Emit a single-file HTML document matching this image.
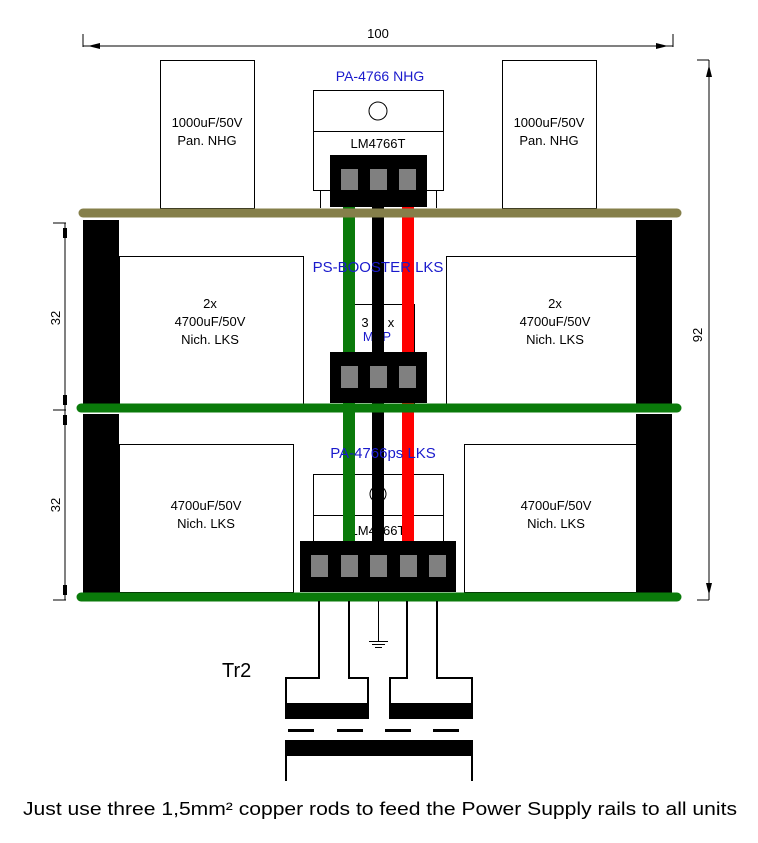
<!DOCTYPE html>
<html><head><meta charset="utf-8"><style>
html,body{margin:0;padding:0;background:#fff;}
svg{display:block;}
text{font-family:"Liberation Sans",sans-serif;}
</style></head><body>
<svg width="758" height="843" viewBox="0 0 758 843" xmlns="http://www.w3.org/2000/svg">
<g stroke="#000" stroke-width="1" fill="none">
<line x1="83" y1="34" x2="83" y2="47"/><line x1="673" y1="34" x2="673" y2="47"/>
<line x1="83" y1="46" x2="673" y2="46"/>
<line x1="697" y1="60" x2="709" y2="60"/><line x1="697" y1="600" x2="709" y2="600"/>
<line x1="709" y1="60" x2="709" y2="600"/>
<line x1="53" y1="223" x2="66" y2="223"/><line x1="53" y1="410" x2="66" y2="410"/><line x1="53" y1="600" x2="66" y2="600"/>
<line x1="65" y1="223" x2="65" y2="600"/>
</g>
<g fill="#000">
<polygon points="88,46 100,43 100,49"/><polygon points="668,46 656,43 656,49"/>
<polygon points="709,65 706,77 712,77"/><polygon points="709,595 706,583 712,583"/>
<rect x="63" y="228" width="4" height="10"/><rect x="63" y="395" width="4" height="10"/>
<rect x="63" y="415" width="4" height="10"/><rect x="63" y="585" width="4" height="10"/>
</g>
<text x="378" y="38" font-size="13" text-anchor="middle">100</text>
<text transform="translate(702,335) rotate(-90)" font-size="13" text-anchor="middle">92</text>
<text transform="translate(60,318) rotate(-90)" font-size="13" text-anchor="middle">32</text>
<text transform="translate(60,505) rotate(-90)" font-size="13" text-anchor="middle">32</text>

<g stroke="#000" fill="#fff">
<rect x="160.5" y="60.5" width="94" height="148"/>
<rect x="502.5" y="60.5" width="94" height="148"/>
<rect x="313.5" y="90.5" width="130" height="100"/>
</g>
<g font-size="13" text-anchor="middle">
<text x="207" y="127">1000uF/50V</text><text x="207" y="145">Pan. NHG</text>
<text x="549" y="127">1000uF/50V</text><text x="549" y="145">Pan. NHG</text>
</g>
<line x1="313" y1="131.5" x2="443" y2="131.5" stroke="#000"/>
<circle cx="378" cy="111" r="9" fill="none" stroke="#000"/>
<g stroke="#000"><line x1="320.5" y1="190" x2="320.5" y2="208"/><line x1="436.5" y1="190" x2="436.5" y2="208"/></g>
<text x="378" y="148" font-size="13" text-anchor="middle">LM4766T</text>
<text x="380" y="81" font-size="14" fill="#1a1acc" text-anchor="middle">PA-4766 NHG</text>
<rect x="330" y="155" width="97" height="52" fill="#000"/>
<g fill="#808080"><rect x="341" y="169" width="17" height="21"/><rect x="370" y="169" width="17" height="21"/><rect x="399" y="169" width="17" height="21"/></g>

<g fill="#000">
<rect x="83" y="220" width="36" height="186"/><rect x="636" y="220" width="36" height="186"/>
<rect x="83" y="414" width="36" height="181"/><rect x="636" y="414" width="36" height="181"/>
</g>
<g stroke="#000" fill="#fff">
<rect x="119.5" y="256.5" width="184" height="149"/>
<rect x="446.5" y="256.5" width="190" height="149"/>
<rect x="119.5" y="444.5" width="174" height="148"/>
<rect x="464.5" y="444.5" width="172" height="148"/>
<rect x="343.5" y="304.5" width="71" height="105"/>
<rect x="313.5" y="474.5" width="130" height="67"/>
</g>
<line x1="313" y1="515.5" x2="443" y2="515.5" stroke="#000"/>
<g font-size="13" text-anchor="middle">
<text x="210" y="308">2x</text><text x="210" y="326">4700uF/50V</text><text x="210" y="344">Nich. LKS</text>
<text x="555" y="308">2x</text><text x="555" y="326">4700uF/50V</text><text x="555" y="344">Nich. LKS</text>
<text x="206" y="510">4700uF/50V</text><text x="206" y="528">Nich. LKS</text>
<text x="556" y="510">4700uF/50V</text><text x="556" y="528">Nich. LKS</text>
<text x="365" y="327">3</text><text x="391" y="327">x</text>
<text x="378" y="535">LM4766T</text>
</g>
<text x="377" y="341" font-size="13" fill="#1a1acc" text-anchor="middle">MKP</text>

<rect x="343" y="207" width="12" height="338" fill="#0a7a0a"/>
<rect x="372" y="207" width="12" height="338" fill="#000"/>
<rect x="402" y="207" width="12" height="338" fill="#ff0000"/>
<circle cx="378" cy="494" r="8" fill="none" stroke="#000"/>

<text x="378" y="272" font-size="15" fill="#1a1acc" text-anchor="middle">PS-BOOSTER LKS</text>
<text x="383" y="458" font-size="15" fill="#1a1acc" text-anchor="middle">PA-4766ps LKS</text>

<rect x="330" y="352" width="97" height="51" fill="#000"/>
<g fill="#808080"><rect x="341" y="366" width="17" height="22"/><rect x="370" y="366" width="17" height="22"/><rect x="399" y="366" width="17" height="22"/></g>

<rect x="300" y="541" width="156" height="51" fill="#000"/>
<g fill="#808080"><rect x="311" y="555" width="17" height="22"/><rect x="341" y="555" width="17" height="22"/><rect x="370" y="555" width="17" height="22"/><rect x="400" y="555" width="17" height="22"/><rect x="429" y="555" width="17" height="22"/></g>

<line x1="83" y1="213" x2="677" y2="213" stroke="#857f4a" stroke-width="9" stroke-linecap="round"/>
<line x1="81" y1="408" x2="677" y2="408" stroke="#0a7a0a" stroke-width="9" stroke-linecap="round"/>
<line x1="81" y1="597" x2="677" y2="597" stroke="#0a7a0a" stroke-width="9" stroke-linecap="round"/>

<g stroke="#000" stroke-width="2" fill="none">
<polyline points="319,601 319,678 286,678 286,704"/>
<polyline points="349,601 349,678 368,678 368,704"/>
<polyline points="407,601 407,678 390,678 390,704"/>
<polyline points="437,601 437,678 472,678 472,704"/>
<line x1="286" y1="754" x2="286" y2="781"/><line x1="472" y1="754" x2="472" y2="781"/>
</g>
<g fill="#000">
<rect x="285" y="703" width="84" height="16"/><rect x="389" y="703" width="84" height="16"/>
<rect x="285" y="740" width="188" height="16"/>
<rect x="288" y="729" width="26" height="3"/><rect x="337" y="729" width="26" height="3"/><rect x="385" y="729" width="26" height="3"/><rect x="433" y="729" width="26" height="3"/>
</g>
<g stroke="#000" stroke-width="1">
<line x1="378.5" y1="601" x2="378.5" y2="641"/>
<line x1="369" y1="641.5" x2="388" y2="641.5"/><line x1="372" y1="644.5" x2="385" y2="644.5"/><line x1="375" y1="647.5" x2="382" y2="647.5"/>
</g>
<text x="222" y="677" font-size="20">Tr2</text>
<text x="23" y="815" font-size="18" textLength="714" lengthAdjust="spacingAndGlyphs">Just use three 1,5mm² copper rods to feed the Power Supply rails to all units</text>
</svg>
</body></html>
